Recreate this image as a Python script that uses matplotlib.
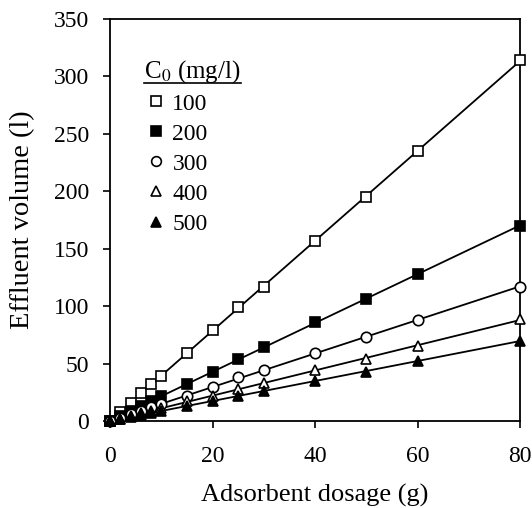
import numpy as np
import matplotlib
matplotlib.use('Agg')
import matplotlib.pyplot as plt
from matplotlib.lines import Line2D

plt.rcParams['font.family'] = 'Liberation Serif'
plt.rcParams['mathtext.fontset'] = 'stix'

# Dados
dosage = [0, 2, 4, 6, 8, 10, 15, 20, 25, 30, 40, 50, 60, 80]
v100 = [0, 8, 16, 24, 32, 39, 59, 79, 99, 117, 157, 195, 235, 314]
v200 = [0, 4, 9, 13, 17, 22, 32, 43, 54, 64, 86, 106, 128, 170]
v300 = [0, 3, 6, 9, 12, 15, 22, 30, 38, 44, 59, 73, 88, 117]
v400 = [0, 2, 4.5, 7, 9, 11, 17, 22, 28, 33, 44, 54, 65, 89]
v500 = [0, 2, 3.5, 5, 7, 9, 13, 17, 22, 26, 35, 43, 52, 70]
labels = ['100', '200', '300', '400', '500']
series = [v100, v200, v300, v400, v500]
markers = ['s', 's', 'o', '^', '^']
fills = ['white', 'black', 'white', 'white', 'black']

fig = plt.figure(figsize=(5.32, 5.08), dpi=100)
ax = fig.add_axes([0.2068, 0.1713, 0.7707, 0.7913])

x = np.array(dosage)
handles = []
for y, m, fc, lab in zip(series, markers, fills, labels):
    y = np.array(y)
    k, b = np.polyfit(x, y, 1)
    xl = np.array([x.min(), x.max()])
    ax.plot(xl, k * xl + b, color='black', lw=1.3, zorder=2)
    ax.plot(x, y, ls='none', marker=m, ms=7.5, mfc=fc, mec='black',
            mew=1.2, zorder=3, clip_on=False)
    handles.append(Line2D([], [], ls='none', marker=m, ms=7, mfc=fc,
                          mec='black', mew=1.2, label=lab))

ax.set_xlim(0, 80)
ax.set_ylim(0, 350)
ax.set_xticks([0, 20, 40, 60, 80])
ax.set_yticks(range(0, 351, 50))
ax.tick_params(direction='out', length=5, width=1.2, labelsize=17)
for s in ax.spines.values():
    s.set_linewidth(1.3)
ax.tick_params(axis='x', pad=13)
ax.tick_params(axis='y', pad=10)
ax.set_xlabel('Adsorbent dosage (g)', fontsize=19)
ax.set_ylabel('Effluent volume (l)', fontsize=20.5)
ax.xaxis.set_label_coords(0.5, -0.157)
ax.yaxis.set_label_coords(-0.182, 0.5)

leg = ax.legend(handles=handles, title='C$_0$ (mg/l)', loc='upper left',
                bbox_to_anchor=(0.06, 0.927), frameon=False, fontsize=17,
                title_fontsize=18, handletextpad=0.2, handlelength=1.0,
                labelspacing=0.36, borderaxespad=0)
leg._legend_box.align = 'left'

fig.canvas.draw()
bb = leg.get_title().get_window_extent().transformed(fig.transFigure.inverted())
fig.add_artist(Line2D([bb.x0, bb.x1], [bb.y0 + 0.003, bb.y0 + 0.003],
                      color='black', lw=1.2, transform=fig.transFigure))

fig.savefig('out.png', dpi=100)
